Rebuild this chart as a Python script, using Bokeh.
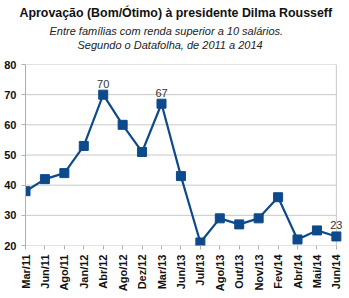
from bokeh.plotting import figure
from bokeh.models import Title, Range1d, FixedTicker, Label
from bokeh.embed import file_html
from bokeh.resources import INLINE
import math

months = ["Mar/11", "Jun/11", "Ago/11", "Jan/12", "Abr/12", "Ago/12", "Dez/12", "Mar/13",
          "Jun/13", "Jul/13", "Ago/13", "Out/13", "Nov/13", "Fev/14", "Abr/14", "Mai/14", "Jun/14"]
approval = [38, 42, 44, 53, 70, 60, 51, 67, 43, 21, 29, 27, 29, 36, 22, 25, 23]
labeled = ["Abr/12", "Mar/13", "Jun/14"]
y_ticks = [20, 30, 40, 50, 60, 70, 80]

title_text = "Aprovação (Bom/Ótimo) à presidente Dilma Rousseff"
subtitle1 = "Entre famílias com renda superior a 10 salários."
subtitle2 = "Segundo o Datafolha, de 2011 a 2014"

idx = list(range(len(months)))
last = len(months) - 1
color = "#0d4a8c"
grid_color = "#c8c8c8"

p = figure(width=349, height=298, output_backend="svg", toolbar_location=None,
           x_range=Range1d(0, last + 0.47), y_range=Range1d(y_ticks[0], y_ticks[-1]),
           min_border_left=25, min_border_right=4, min_border_top=0, min_border_bottom=53,
           background_fill_color="white", border_fill_color="white")

p.add_layout(Title(text=" ", text_font_size="11px", standoff=0), "above")
p.add_layout(Title(text=subtitle2, align="left", offset=52, text_font="Liberation Sans",
                   text_font_size="11px", text_font_style="italic", text_color="#222222",
                   standoff=0), "above")
p.add_layout(Title(text=subtitle1, align="left", offset=24, text_font="Liberation Sans",
                   text_font_size="11px", text_font_style="italic", text_color="#222222",
                   standoff=0), "above")
p.add_layout(Title(text=title_text, align="left", offset=-6, text_font="Liberation Sans",
                   text_font_size="12.4px", text_font_style="bold", text_color="#111111",
                   standoff=6), "above")

# grid lines limited to the data span, plus right border
p.segment(x0=[0] * len(y_ticks), y0=y_ticks, x1=[last] * len(y_ticks), y1=y_ticks,
          line_color=grid_color, line_width=1)
p.segment(x0=[last], y0=[y_ticks[0]], x1=[last], y1=[y_ticks[-1]],
          line_color=grid_color, line_width=1)

p.line(idx, approval, line_color=color, line_width=2.2)
p.scatter(idx, approval, marker="square", size=9, fill_color=color, line_color=color)

for m in labeled:
    i = months.index(m)
    p.add_layout(Label(x=i, y=approval[i], text=str(approval[i]), text_align="center",
                       y_offset=7, text_font="Liberation Sans", text_font_size="11px",
                       text_color="#333333"))

p.xaxis.ticker = FixedTicker(ticks=idx)
p.xaxis.major_label_overrides = {i: m for i, m in enumerate(months)}
p.xaxis.major_label_orientation = math.pi / 2
p.xaxis.major_label_text_font = "Liberation Sans"
p.xaxis.major_label_text_font_style = "bold"
p.xaxis.major_label_text_font_size = "11px"
p.xaxis.major_label_text_color = "#111111"
p.xaxis.major_tick_line_color = "#b0b0b0"
p.xaxis.major_tick_in = 0
p.xaxis.major_tick_out = 4
p.xaxis.minor_tick_line_color = None
p.xaxis.axis_line_color = None

p.yaxis.ticker = FixedTicker(ticks=y_ticks)
p.yaxis.major_label_text_font = "Liberation Sans"
p.yaxis.major_label_text_font_style = "bold"
p.yaxis.major_label_text_font_size = "11px"
p.yaxis.major_label_text_color = "#111111"
p.yaxis.major_tick_line_color = "#b0b0b0"
p.yaxis.major_tick_in = 0
p.yaxis.major_tick_out = 4
p.yaxis.minor_tick_line_color = None
p.yaxis.axis_line_color = "#b0b0b0"

p.xgrid.grid_line_color = None
p.ygrid.grid_line_color = None
p.outline_line_color = None

open("out.html", "w").write(file_html(p, INLINE))
